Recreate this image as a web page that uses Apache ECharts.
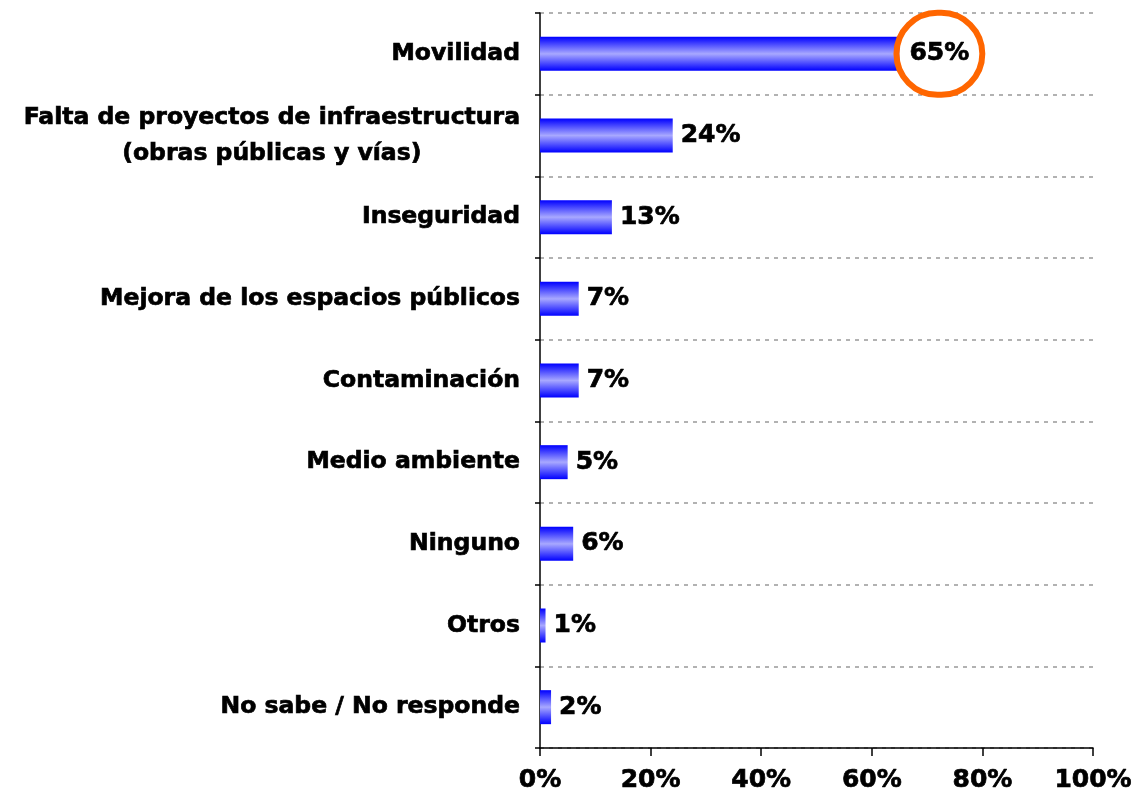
<!DOCTYPE html>
<html>
<head>
<meta charset="utf-8">
<script src="https://cdn.jsdelivr.net/npm/echarts@6/dist/echarts.min.js"></script>
<style>
  html, body { margin: 0; padding: 0; background: #fff; }
  #chart { width: 1135px; height: 799px; }
</style>
</head>
<body>
<div id="chart"></div>
<script>
  // datos del gráfico
  var categorias = [
    'Movilidad',
    'Falta de proyectos de infraestructura\n(obras públicas y vías)',
    'Inseguridad',
    'Mejora de los espacios públicos',
    'Contaminación',
    'Medio ambiente',
    'Ninguno',
    'Otros',
    'No sabe / No responde'
  ];
  var valores = [65, 24, 13, 7, 7, 5, 6, 1, 2];
  var destacado = 0; // el valor rodeado por el círculo naranja
  var ticksX = [0, 20, 40, 60, 80, 100];

  var fuente = '"DejaVu Sans", Verdana, sans-serif';
  // un poco más de grosor para parecerse a Verdana Bold
  var grosor = { textBorderColor: '#000', textBorderWidth: 0.7 };

  var chart = echarts.init(document.getElementById('chart'));

  var datos = valores.map(function (v, i) {
    var item = { value: v };
    if (i === destacado) {
      item.label = {
        borderColor: '#ff6600',
        borderWidth: 6,
        borderRadius: 43,
        padding: [27, 13, 27, 13],
        lineHeight: 28,
        distance: -3
      };
    }
    return item;
  });

  var option = {
    animation: false,
    grid: { left: 540, right: 40, top: 13, bottom: 51, containLabel: false },
    xAxis: {
      type: 'value',
      min: ticksX[0],
      max: ticksX[ticksX.length - 1],
      interval: 20,
      axisLine: { show: true, lineStyle: { color: '#000', width: 1.5 } },
      axisTick: { show: true, length: 8, lineStyle: { color: '#000', width: 1.5 } },
      splitLine: { show: false },
      axisLabel: Object.assign({
        formatter: '{value}%',
        color: '#000',
        fontFamily: fuente,
        fontWeight: 'bold',
        fontSize: 25,
        margin: 20
      }, grosor)
    },
    yAxis: {
      type: 'category',
      data: categorias,
      inverse: true,
      axisLine: { show: true, lineStyle: { color: '#000', width: 1.5 } },
      axisTick: { show: true, alignWithLabel: false, length: 5, lineStyle: { color: '#000', width: 1.5 } },
      splitLine: { show: true, lineStyle: { color: '#999', type: [4, 5], width: 1.5 } },
      axisLabel: {
        margin: 20,
        formatter: function (val) {
          return val.split('\n').map(function (l) { return '{c|' + l + '}'; }).join('\n');
        },
        rich: {
          c: Object.assign({
            align: 'center',
            color: '#000',
            fontFamily: fuente,
            fontWeight: 'bold',
            fontSize: 23.5,
            lineHeight: 36
          }, grosor)
        }
      }
    },
    series: [{
      type: 'bar',
      data: datos,
      barWidth: 34,
      itemStyle: {
        color: new echarts.graphic.LinearGradient(0, 0, 0, 1, [
          { offset: 0, color: '#0000ff' },
          { offset: 0.5, color: '#a8a8ff' },
          { offset: 1, color: '#0000ff' }
        ])
      },
      label: Object.assign({
        show: true,
        position: 'right',
        distance: 8,
        formatter: '{c}%',
        color: '#000',
        fontFamily: fuente,
        fontWeight: 'bold',
        fontSize: 25
      }, grosor)
    }]
  };

  chart.setOption(option);
  window.addEventListener('resize', function () {
    chart.resize();
  });
</script>
</body>
</html>
